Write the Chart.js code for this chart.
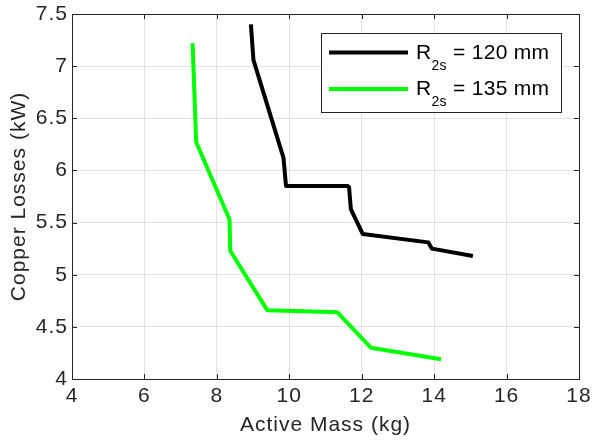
<!DOCTYPE html>
<html>
<head>
<meta charset="utf-8">
<script src="https://cdn.jsdelivr.net/npm/chart.js@4/dist/chart.umd.min.js"></script>
<style>
  html, body { margin: 0; padding: 0; background: #fff; }
  #wrap { width: 592px; height: 443px; }
</style>
</head>
<body>
<div id="wrap"><canvas id="c" width="592" height="443"></canvas></div>
<script>
// curve data
const mass120 = [8.94, 9.01, 9.84, 9.91, 11.62, 11.65, 11.70, 12.03, 13.84, 13.94, 15.07];
const loss120 = [7.40, 7.06, 6.12, 5.85, 5.85, 5.84, 5.63, 5.39, 5.31, 5.25, 5.18];
const mass135 = [7.33, 7.43, 8.35, 8.37, 9.39, 11.33, 12.25, 14.19];
const loss135 = [7.22, 6.27, 5.53, 5.23, 4.66, 4.64, 4.30, 4.19];

const legendMain = ['R', 'R'];
const legendSub  = ['2s', '2s'];
const legendRest = [' = 120 mm', ' = 135 mm'];

const xTicks = [4, 6, 8, 10, 12, 14, 16, 18];
const yTicks = [4, 4.5, 5, 5.5, 6, 6.5, 7, 7.5];

const axisClr = '#262626';
const gridClr = '#e3e3e3';
const FONT = '"Liberation Sans", Arial, sans-serif';

const toPts = (xs, ys) => xs.map((x, i) => ({ x, y: ys[i] }));

// matlab text is a bit wider than Liberation, add some tracking
const spacingPlugin = {
  id: 'spacing',
  beforeDraw(chart) { chart.ctx.letterSpacing = '1px'; },
};

// MATLAB-style box: full frame + inward ticks on all 4 sides
const boxPlugin = {
  id: 'box',
  afterDatasetsDraw(chart) {
    const { ctx, chartArea: a, scales } = chart;
    ctx.save();
    ctx.strokeStyle = axisClr;
    ctx.lineWidth = 1;
    ctx.beginPath();
    xTicks.forEach(v => {
      const px = Math.round(scales.x.getPixelForValue(v)) + 0.5;
      ctx.moveTo(px, a.bottom); ctx.lineTo(px, a.bottom - 5);
      ctx.moveTo(px, a.top);    ctx.lineTo(px, a.top + 5);
    });
    yTicks.forEach(v => {
      const py = Math.round(scales.y.getPixelForValue(v)) + 0.5;
      ctx.moveTo(a.left, py);  ctx.lineTo(a.left + 5, py);
      ctx.moveTo(a.right, py); ctx.lineTo(a.right - 5, py);
    });
    ctx.stroke();
    ctx.strokeRect(Math.round(a.left) + 0.5, Math.round(a.top) + 0.5,
                   Math.round(a.right - a.left), Math.round(a.bottom - a.top));
    ctx.restore();
  },
};

// legend with subscripts (built-in legend can't do R_2s)
const legendPlugin = {
  id: 'subLegend',
  afterDraw(chart) {
    const { ctx } = chart;
    const bx = 321, by = 33, bw = 240, bh = 79;
    ctx.save();
    ctx.letterSpacing = '0.3px';
    ctx.fillStyle = '#fff';
    ctx.fillRect(bx, by, bw, bh);
    ctx.strokeStyle = axisClr;
    ctx.lineWidth = 1;
    ctx.strokeRect(bx + 0.5, by + 0.5, bw, bh);
    const rows = [58.5, 95];
    chart.data.datasets.forEach((ds, i) => {
      const y = rows[i];
      ctx.strokeStyle = ds.borderColor;
      ctx.lineWidth = 4;
      ctx.beginPath();
      ctx.moveTo(329, y - 6); ctx.lineTo(408, y - 6);
      ctx.stroke();
      ctx.fillStyle = '#000';
      ctx.textBaseline = 'alphabetic';
      ctx.font = '21px ' + FONT;
      let x = 416;
      ctx.fillText(legendMain[i], x, y);
      x += ctx.measureText(legendMain[i]).width;
      ctx.font = '14px ' + FONT;
      ctx.fillText(legendSub[i], x, y + 11);
      x += ctx.measureText(legendSub[i]).width;
      ctx.font = '21px ' + FONT;
      ctx.fillText(legendRest[i], x, y);
    });
    ctx.restore();
  },
};

new Chart(document.getElementById('c'), {
  type: 'line',
  data: {
    datasets: [
      { label: 'R2s = 120 mm', data: toPts(mass120, loss120), borderColor: '#000000', borderWidth: 4, pointRadius: 0, tension: 0, borderJoinStyle: 'round' },
      { label: 'R2s = 135 mm', data: toPts(mass135, loss135), borderColor: '#00ff00', borderWidth: 4, pointRadius: 0, tension: 0, borderJoinStyle: 'round' },
    ],
  },
  options: {
    responsive: false,
    animation: false,
    layout: { padding: { top: 14, right: 13, left: 0, bottom: 0 } },
    plugins: { legend: { display: false }, tooltip: { enabled: false } },
    scales: {
      x: {
        type: 'linear', min: 4, max: 18,
        afterBuildTicks: s => { s.ticks = xTicks.map(v => ({ value: v })); },
        afterFit: s => { s.height = 64; s.paddingLeft = 0; s.paddingRight = 0; },
        border: { display: false },
        grid: { color: gridClr, drawTicks: false },
        ticks: { color: axisClr, padding: 5, font: { family: FONT, size: 21 }, callback: v => String(v) },
        title: { display: true, text: 'Active Mass (kg)', color: axisClr, font: { family: FONT, size: 21, lineHeight: 1 }, padding: { top: 0, bottom: 7 } },
      },
      y: {
        type: 'linear', min: 4, max: 7.5,
        afterBuildTicks: s => { s.ticks = yTicks.map(v => ({ value: v })); },
        afterFit: s => { s.width = 72; s.paddingTop = 0; s.paddingBottom = 0; },
        border: { display: false },
        grid: { color: gridClr, drawTicks: false },
        ticks: { color: axisClr, padding: 4, font: { family: FONT, size: 21 }, callback: v => String(v) },
        title: { display: true, text: 'Copper Losses (kW)', color: axisClr, font: { family: FONT, size: 21, lineHeight: 1 }, padding: { top: 9, bottom: 0 } },
      },
    },
  },
  plugins: [spacingPlugin, boxPlugin, legendPlugin],
});
</script>
</body>
</html>
